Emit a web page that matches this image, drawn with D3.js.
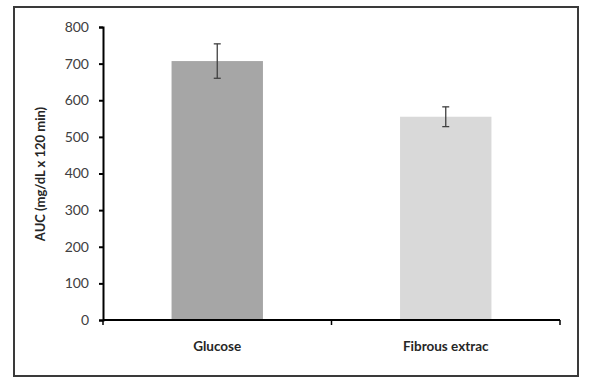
<!DOCTYPE html>
<html><head><meta charset="utf-8">
<script src="https://cdn.jsdelivr.net/npm/d3@7"></script>
<style>body{margin:0;background:#fff}svg{display:block}text{font-family:Lato,"Open Sans",sans-serif}</style>
</head><body>
<svg id="c" width="589" height="387"></svg>
<script>
const categories = ["Glucose", "Fibrous extrac"];
const values = [707, 555];
const errors = [47, 27];
const colors = ["#a6a6a6", "#d9d9d9"];
const yTicks = [0, 100, 200, 300, 400, 500, 600, 700, 800];
const yTitle = "AUC (mg/dL x 120 min)";

const svg = d3.select("#c");
svg.append("rect").attr("x", 14).attr("y", 7).attr("width", 564).attr("height", 369)
  .attr("fill", "#fff").attr("stroke", "#3a3a3a").attr("stroke-width", 2);

const m = {l: 103, r: 560, t: 27, b: 320};
const x = d3.scaleBand().domain(categories).range([m.l, m.r]).paddingInner(0.6).paddingOuter(0.3);
const xb = d3.scaleBand().domain(categories).range([m.l, m.r]);
const y = d3.scaleLinear().domain([0, 800]).range([m.b, m.t]);

// bars
svg.selectAll(".bar").data(categories).enter().append("rect")
  .attr("x", d => x(d)).attr("width", x.bandwidth())
  .attr("y", (d, i) => y(values[i])).attr("height", (d, i) => y(0) - y(values[i]))
  .attr("fill", (d, i) => colors[i]);

// error bars
const eg = svg.append("g").attr("stroke", "#404040").attr("stroke-width", 1.3);
categories.forEach((c, i) => {
  const cx = x(c) + x.bandwidth() / 2;
  eg.append("line").attr("x1", cx).attr("x2", cx).attr("y1", y(values[i] + errors[i])).attr("y2", y(values[i] - errors[i]));
  eg.append("line").attr("x1", cx - 3.5).attr("x2", cx + 3.5).attr("y1", y(values[i] + errors[i])).attr("y2", y(values[i] + errors[i]));
  eg.append("line").attr("x1", cx - 3.5).attr("x2", cx + 3.5).attr("y1", y(values[i] - errors[i])).attr("y2", y(values[i] - errors[i]));
});

// y axis
const ya = svg.append("g").attr("transform", `translate(${m.l},0)`)
  .call(d3.axisLeft(y).tickValues(yTicks).tickSize(4).tickPadding(10));
ya.select(".domain").attr("stroke", "#000").attr("stroke-width", 2);
ya.selectAll(".tick line").attr("stroke", "#000").attr("stroke-width", 2);
ya.selectAll(".tick text").attr("font-size", 14).attr("fill", "#404040").attr("font-family", "Lato, sans-serif");

// x axis
const xa = svg.append("g").attr("transform", `translate(0,${m.b})`);
xa.append("line").attr("x1", m.l).attr("x2", m.r).attr("stroke", "#000").attr("stroke-width", 2);
const bounds = [m.l, ...categories.map(c => xb(c) + xb.bandwidth())];
bounds.forEach(b => xa.append("line").attr("x1", b).attr("x2", b).attr("y1", 0).attr("y2", 5).attr("stroke", "#000").attr("stroke-width", 1.5));
categories.forEach(c => xa.append("text").attr("x", xb(c) + xb.bandwidth() / 2).attr("y", 31)
  .attr("text-anchor", "middle").attr("font-size", 13.5).attr("font-weight", "bold").attr("fill", "#262626").text(c));

// y title
svg.append("text").attr("transform", "translate(45,174) rotate(-90)").attr("text-anchor", "middle")
  .attr("font-size", 13).attr("font-weight", "bold").attr("fill", "#262626").text(yTitle);
</script>
</body></html>
